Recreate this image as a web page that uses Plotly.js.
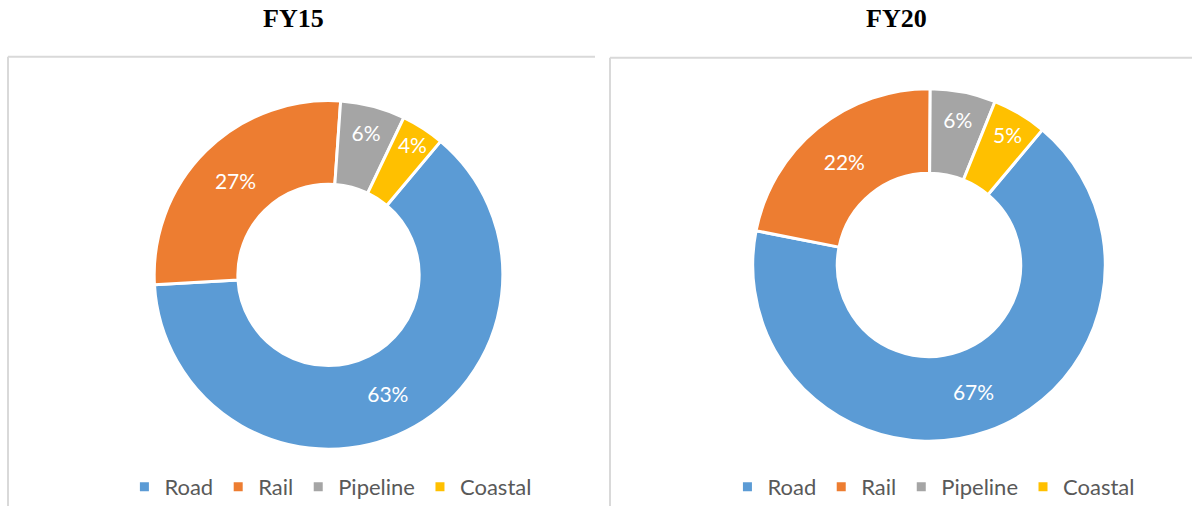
<!DOCTYPE html>
<html>
<head>
<meta charset="utf-8">
<script src="https://cdn.plot.ly/plotly-3.0.1.min.js"></script>
<style>html,body{margin:0;padding:0;background:#fff;}#chart{width:1192px;height:508px;}</style>
</head>
<body>
<div id="chart"></div>
<script>
const categories = ["Road", "Rail", "Pipeline", "Coastal"];
const fy15Values = [63, 27, 6, 4];
const fy20Values = [67, 22, 6, 5];
const chartTitles = ["FY15", "FY20"];
const sliceColors = ["#5B9BD5", "#ED7D31", "#A5A5A5", "#FFC000"];

const labelFont = {family: "Lato, 'Open Sans', sans-serif", size: 21, color: "#FFFFFF"};
const legendFont = {family: "Lato, 'Open Sans', sans-serif", size: 22, color: "#595959"};

// pie legends merge identical labels across traces, so the second chart's
// labels carry an invisible zero-width suffix to get their own legend
function donut(labels, values, domain, legendId) {
  return {
    type: "pie",
    labels: labels,
    values: values,
    hole: 0.52,
    sort: false,
    direction: "clockwise",
    rotation: 40,
    domain: domain,
    marker: {colors: sliceColors, line: {color: "#FFFFFF", width: 3}},
    texttemplate: "%{value}%",
    textposition: "inside",
    insidetextorientation: "horizontal",
    textfont: labelFont,
    hoverinfo: "label+percent",
    legend: legendId
  };
}

const data = [
  donut(categories, fy15Values, {x: [0.12878, 0.42240], y: [0.1122, 0.8012]}, "legend"),
  donut(categories.map(c => c + "\u200B"), fy20Values, {x: [0.63087, 0.92785], y: [0.12795, 0.82480]}, "legend2")
];

const borderLine = {color: "#D9D9D9", width: 2};
const legendBase = {
  orientation: "h", xanchor: "center", y: 0.0374, yanchor: "middle",
  font: legendFont, traceorder: "normal", bgcolor: "rgba(0,0,0,0)"
};
const layout = {
  width: 1192,
  height: 508,
  margin: {l: 0, r: 0, t: 0, b: 0},
  paper_bgcolor: "#FFFFFF",
  plot_bgcolor: "#FFFFFF",
  uniformtext: {mode: "show", minsize: 21},
  legend: Object.assign({x: 0.2776}, legendBase),
  legend2: Object.assign({x: 0.7835}, legendBase),
  annotations: [
    {text: chartTitles[0], x: 0.2466, y: 0.9626, xref: "paper", yref: "paper", xanchor: "center", yanchor: "middle", showarrow: false,
     font: {family: "'Liberation Serif', 'Times New Roman', serif", size: 26, color: "#000000", weight: "bold"}},
    {text: chartTitles[1], x: 0.7525, y: 0.9626, xref: "paper", yref: "paper", xanchor: "center", yanchor: "middle", showarrow: false,
     font: {family: "'Liberation Serif', 'Times New Roman', serif", size: 26, color: "#000000", weight: "bold"}}
  ],
  shapes: [
    {type: "line", xref: "paper", yref: "paper", x0: 8/1192, x1: 595/1192, y0: 1 - 57/508, y1: 1 - 57/508, line: borderLine},
    {type: "line", xref: "paper", yref: "paper", x0: 8/1192, x1: 8/1192, y0: 1 - 57/508, y1: 0, line: borderLine},
    {type: "line", xref: "paper", yref: "paper", x0: 610/1192, x1: 1, y0: 1 - 58/508, y1: 1 - 58/508, line: borderLine},
    {type: "line", xref: "paper", yref: "paper", x0: 610/1192, x1: 610/1192, y0: 1 - 58/508, y1: 0, line: borderLine}
  ]
};

Plotly.newPlot("chart", data, layout, {displayModeBar: false, staticPlot: true});
</script>
</body>
</html>
